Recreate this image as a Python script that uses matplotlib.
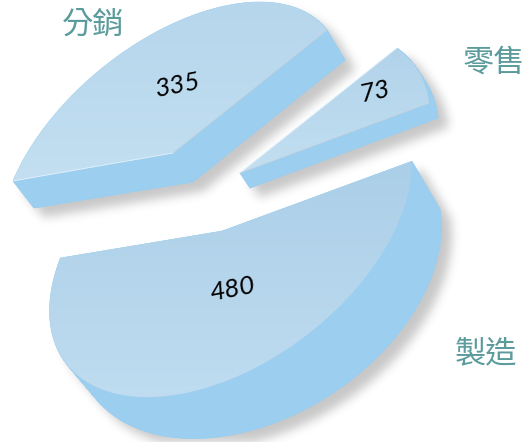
import numpy as np
import matplotlib
matplotlib.use("Agg")
import matplotlib.pyplot as plt
from matplotlib.patches import Polygon
from matplotlib.backends.backend_agg import FigureCanvasAgg
from matplotlib.figure import Figure

# --- data
categories = ["分銷", "零售", "製造"]
values = [335, 73, 480]

# --- layout: where each exploded, tilted slice lands
# circle centre, arc start, arc end, arc middle
top_anchors = [
    [(173, 153), (13, 181), (327, 30), (170, 25)],
    [(240, 173), (397, 48), (429, 103), (419, 72)],
]
bottom_anchors = [
    [(193, 182), (34, 208), (345, 60), (189, 54)],
    [(250, 188), (406, 61), (438, 118), (428, 86)],
]
# the large slice is strongly foreshortened: its rim is an ellipse through these
large_top_rim = [(410, 162), (411, 187), (401, 220), (364, 278), (331, 314), (297, 341), (264, 364),
                 (200, 391), (153, 396), (90, 384), (70, 368), (50, 311), (60, 258)]
large_bottom_rim = [(439, 210), (440, 221), (431, 288), (364, 367), (264, 424), (183, 440),
                    (133, 431), (100, 398), (78, 340), (80, 290)]
top_apex = [(173, 153), (240, 173), (222, 231)]
bottom_apex = [(193, 182), (250, 188), (252, 277)]
top_colors = [("#b6d6ec", "#c3dff1"), ("#b1d3ea", "#c3dff1"), ("#abcfe8", "#bfdcf0")]
side_color = "#9bceef"
label_pos = [(93, 25), (494, 63), (486, 353)]
value_pos = [(178, 85), (375, 91), (232, 289)]
value_rot = [11, 12, 11]
W, H = 528, 442


def homography(src, dst):
    rows, rhs = [], []
    for (x, y), (u, v) in zip(src, dst):
        rows.append([x, y, 1, 0, 0, 0, -u * x, -u * y])
        rows.append([0, 0, 0, x, y, 1, -v * x, -v * y])
        rhs += [u, v]
    return np.append(np.linalg.solve(np.array(rows, float), np.array(rhs, float)), 1).reshape(3, 3)


def project(M, xy):
    p = M @ np.column_stack([xy, np.ones(len(xy))]).T
    return (p[:2] / p[2]).T


def unit(t):
    return np.array([np.cos(t), np.sin(t)])


def ellipse_arc(rim, frac):
    """Least-squares ellipse through rim, swept from first to last rim point by frac in 0..1."""
    pts = np.array(rim, float)
    m = pts.mean(0)
    s = 100.0
    x, y = ((pts - m) / s).T
    D = np.column_stack([x * x, x * y, y * y, x, y])
    A, B, C, Dd, E = np.linalg.lstsq(D, np.ones(len(x)), rcond=None)[0]
    Q = np.array([[A, B / 2], [B / 2, C]])
    c = np.linalg.solve(2 * Q, -np.array([Dd, E]))
    k = 1 + c @ Q @ c
    L = np.linalg.cholesky(np.linalg.inv(Q / k))
    def param(p):
        v = np.linalg.solve(L, (np.array(p) - m) / s - c)
        return np.arctan2(v[1], v[0])
    t0, t1 = param(rim[0]), param(rim[-1])
    if t1 < t0:
        t1 += 2 * np.pi
    t = t0 + frac * (t1 - t0)
    return (L @ unit(t) + c[:, None]).T * s + m


# slice angles come from the values
bounds = np.cumsum([0] + values) / sum(values) * 2 * np.pi
slices = []
for i in range(len(values)):
    a, b = bounds[i], bounds[i + 1]
    ts = np.linspace(a, b, 160)
    if i < 2:
        src = [(0, 0), unit(a), unit(b), unit((a + b) / 2)]
        top_arc = project(homography(src, top_anchors[i]), unit(ts).T)
        bot_arc = project(homography(src, bottom_anchors[i]), unit(ts).T)
    else:
        frac = (ts - a) / (b - a)
        top_arc = ellipse_arc(large_top_rim, frac)
        bot_arc = ellipse_arc(large_bottom_rim, frac)
    slices.append((np.vstack([top_apex[i], top_arc]), np.vstack([bottom_apex[i], bot_arc])))


def silhouette(ax_like, top, bot, color):
    n = len(top)
    ax_like.fill(*bot.T, color=color, lw=0.4, ec=color)
    for j in range(n):
        k = (j + 1) % n
        q = np.array([top[j], top[k], bot[k], bot[j]])
        ax_like.fill(*q.T, color=color, lw=0.4, ec=color)


# blurred drop shadow drawn from the same silhouettes
sf = Figure(figsize=(W / 100, H / 100), dpi=100)
sc = FigureCanvasAgg(sf)
sa = sf.add_axes([0, 0, 1, 1])
sa.set_xlim(0, W); sa.set_ylim(H, 0); sa.axis("off")
for top, bot in slices:
    silhouette(sa, top, bot, "black")
sc.draw()
mask = 1 - np.asarray(sc.buffer_rgba())[..., 0] / 255.0
dy, dx = 9, 10
shifted = np.zeros_like(mask)
shifted[dy:, dx:] = mask[:-dy, :-dx]
kx = np.exp(-0.5 * (np.arange(-16, 17) / 5.0) ** 2)
kx /= kx.sum()
shifted = np.apply_along_axis(lambda r: np.convolve(r, kx, mode="same"), 0, shifted)
shifted = np.apply_along_axis(lambda r: np.convolve(r, kx, mode="same"), 1, shifted)

fig = plt.figure(figsize=(W / 100, H / 100), dpi=100, facecolor="white")
ax = fig.add_axes([0, 0, 1, 1])
ax.axis("off")
shadow = np.zeros((H, W, 4))
shadow[..., 3] = shifted * 0.22
ax.imshow(shadow, extent=(0, W, H, 0), zorder=1, interpolation="bilinear", aspect="auto")

for i, (top, bot) in enumerate(slices):
    silhouette(ax, top, bot, side_color)
    c0, c1 = [np.array(matplotlib.colors.to_rgb(c)) for c in top_colors[i]]
    y0, y1 = top[:, 1].min(), top[:, 1].max()
    frac = np.clip((np.arange(H) - y0) / (y1 - y0), 0, 1)[:, None, None]
    img = np.tile(c0 + frac * (c1 - c0), (1, W, 1))
    im = ax.imshow(img, extent=(0, W, H, 0), zorder=3 + i, aspect="auto")
    poly = Polygon(top, closed=True, transform=ax.transData, fc="none", ec="none")
    ax.add_patch(poly)
    im.set_clip_path(poly)
    if i < 2:
        ax.plot(*top[[0, 1]].T, color="white", lw=0.6, alpha=0.7, zorder=6 + i)
        ax.plot(*top[[0, -1]].T, color="#c9d3da", lw=0.6, alpha=0.8, zorder=6 + i)

for name, (x, y) in zip(categories, label_pos):
    ax.text(x, y, name, family=["Noto Sans CJK TC", "DejaVu Sans"], fontsize=22.5,
            color="#5b9b9b", ha="center", va="center", zorder=20)
for v, (x, y), r in zip(values, value_pos, value_rot):
    ax.text(x, y, str(v), family="Lato", style="italic", fontsize=19, color="black",
            ha="center", va="center", rotation=r, zorder=20)

ax.set_xlim(0, W)
ax.set_ylim(H, 0)
fig.savefig("out.png", dpi=100)
